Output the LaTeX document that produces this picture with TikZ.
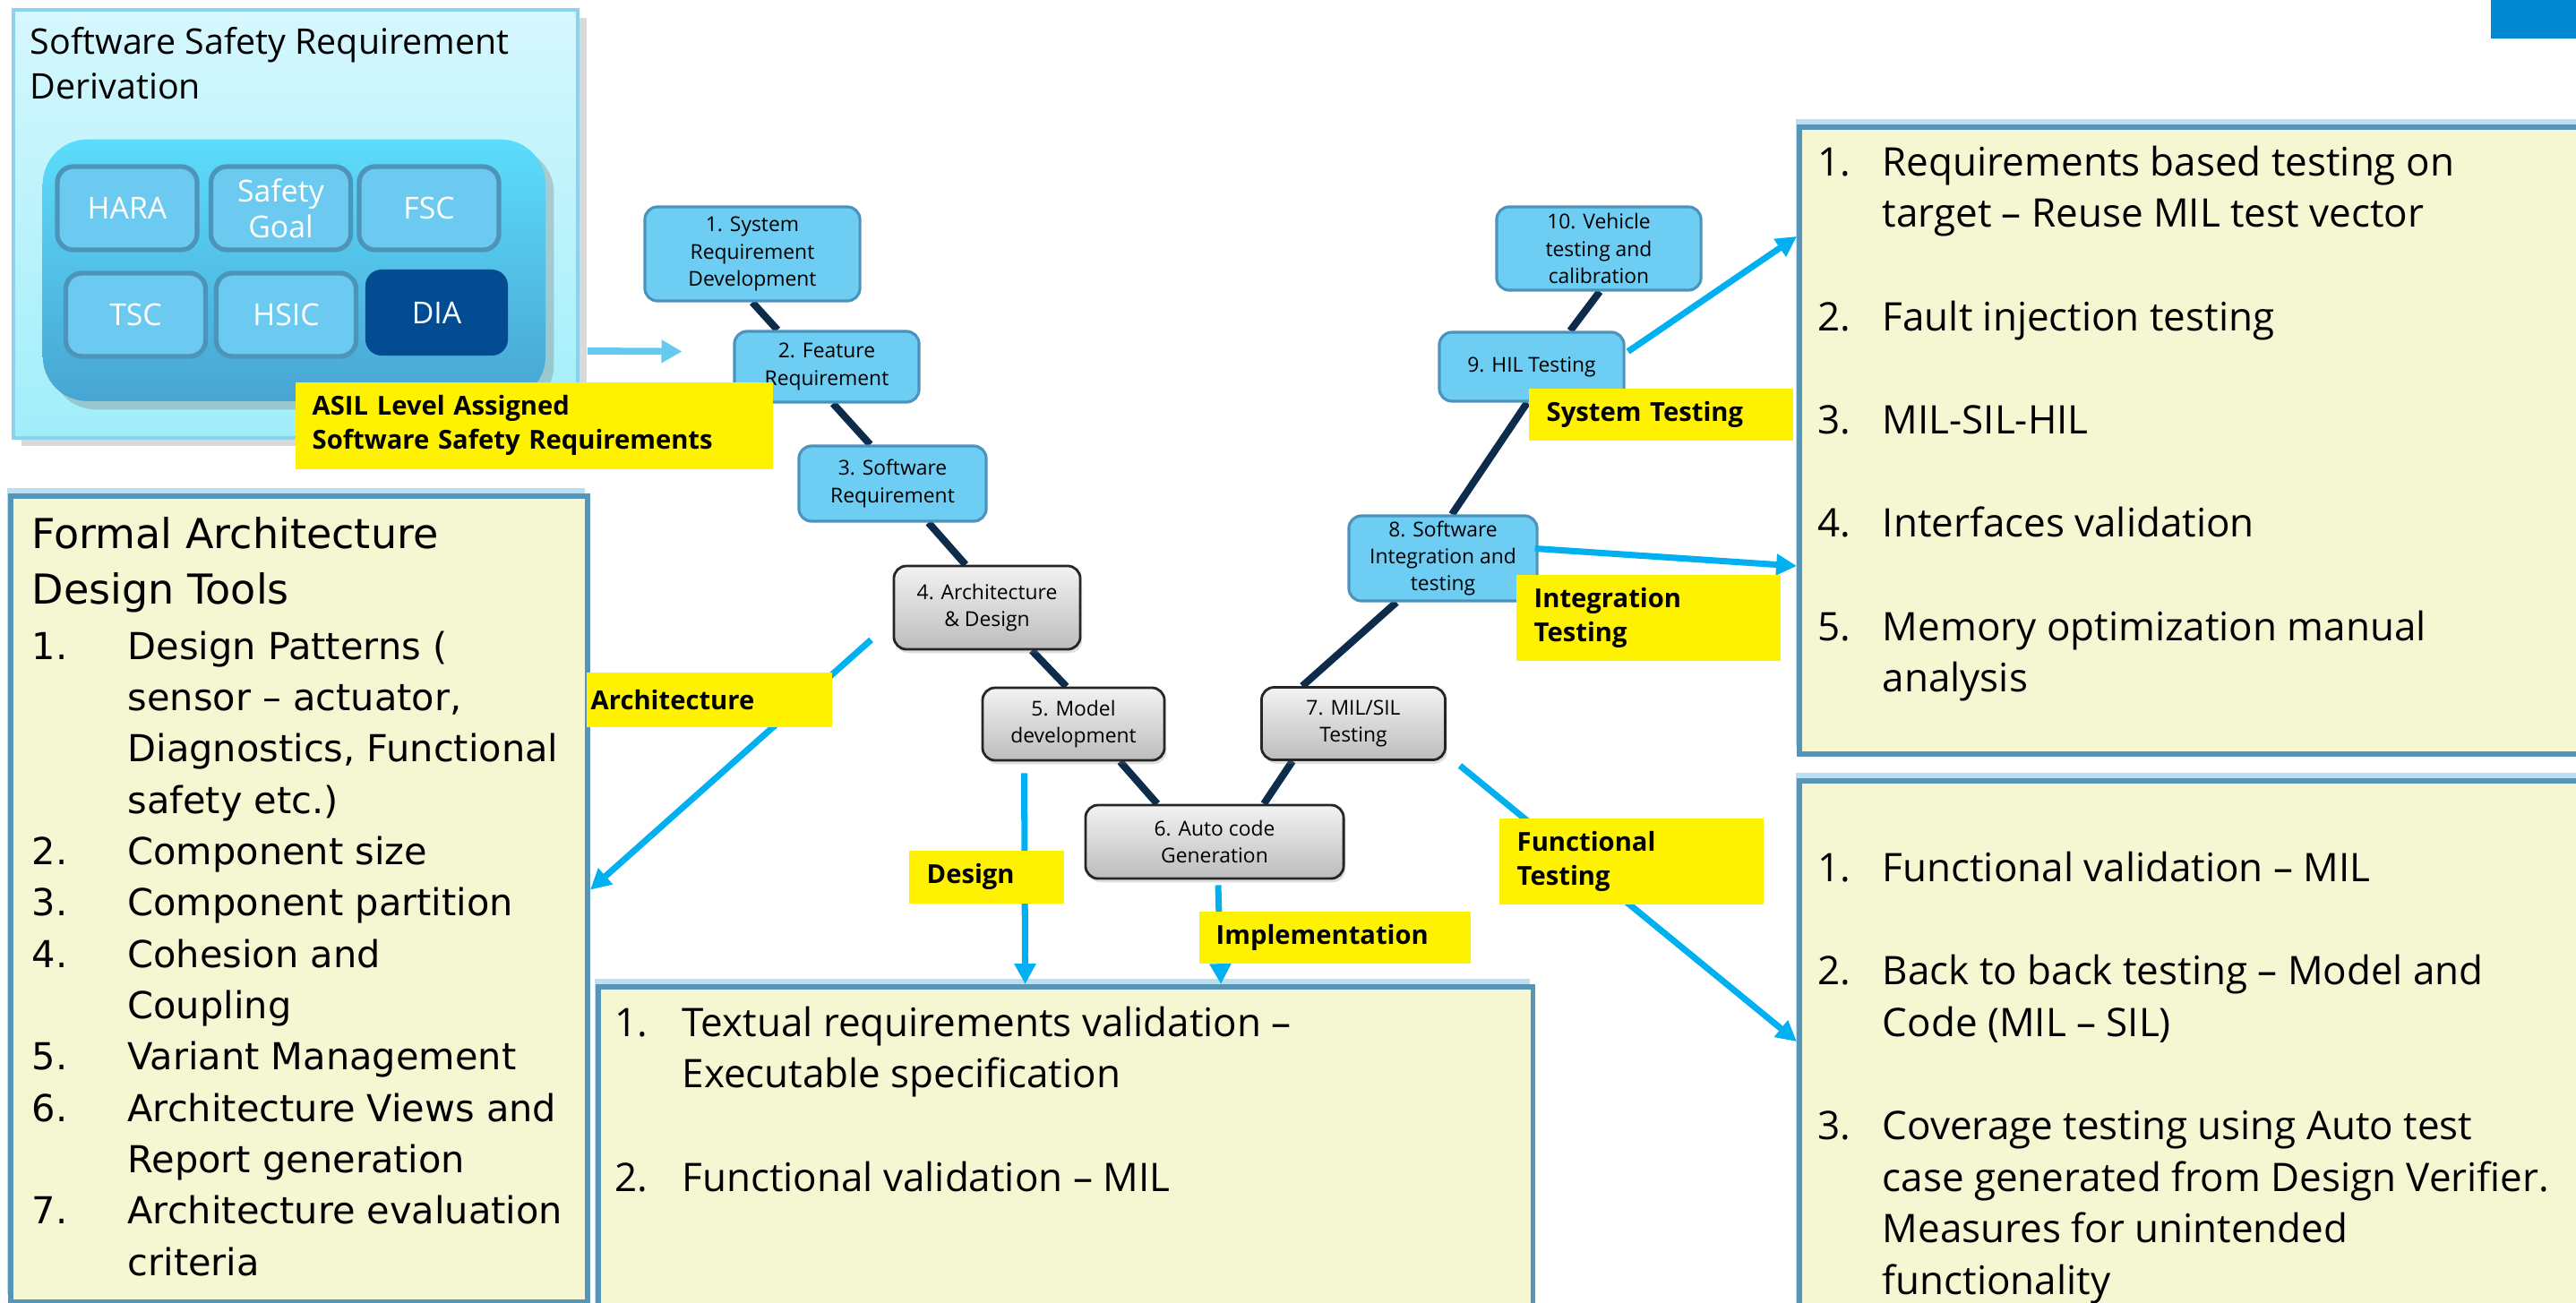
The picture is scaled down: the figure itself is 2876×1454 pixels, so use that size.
\documentclass[tikz,border=0pt]{standalone}
\usepackage{fontspec}
\setmainfont{Open Sans}
\newfontfamily\verdfont{DejaVu Sans}
\usepackage{tikz}
\usetikzlibrary{calc,positioning,arrows.meta,shadows}

\definecolor{vblue}{HTML}{6DCDF2}
\definecolor{vborder}{HTML}{4B93BC}
\definecolor{vnavy}{HTML}{0D2B4B}
\definecolor{arrowblue}{HTML}{00B0F0}
\definecolor{feedblue}{HTML}{66C9EF}
\definecolor{notefill}{HTML}{F5F7D3}
\definecolor{noteborder}{HTML}{5595B8}
\definecolor{noteshade}{HTML}{B8E0F2}
\definecolor{diablue}{HTML}{034C92}
\definecolor{subfill}{HTML}{6CCAF0}
\definecolor{subborder}{HTML}{4D94BB}
\definecolor{cornerblue}{HTML}{0088D1}
\definecolor{ssrdtop}{HTML}{D6F7FD}
\definecolor{ssrdbot}{HTML}{A0EEFA}
\definecolor{ssrdline}{HTML}{8AD2EE}
\definecolor{innertop}{HTML}{5CDCFB}
\definecolor{innerbot}{HTML}{48A5D3}

\newcommand{\numitem}[2]{\makebox[#1][l]{#2}}

\tikzstyle{testarrow} = [line width=2pt, draw=arrowblue, -{Triangle[length=6.5pt,width=6.5pt]}]
\tikzstyle{feedarrow} = [line width=2.2pt, draw=feedblue, -{Triangle[length=6.5pt,width=7pt]}]
\tikzstyle{vline} = [line width=2.3pt, draw=vnavy]
\pgfdeclarelayer{background}
\pgfsetlayers{background,main}

\begin{document}
\begin{tikzpicture}[x=0.01cm, y=-0.01cm]
\tikzset{%
	vstep/.style = { rectangle, rounded corners=4pt, draw=vborder, line width=0.9pt, fill=vblue, align=center, inner sep=0pt, font=\fontsize{6.5}{8.6}\selectfont },
	vgray/.style = { rectangle, rounded corners=4pt, draw=black!85, line width=0.8pt, top color=gray!10, bottom color=gray!52, align=center, inner sep=0pt, font=\fontsize{6.5}{8.6}\selectfont, drop shadow={opacity=0.25, shadow xshift=0.6pt, shadow yshift=-1.2pt} },
	subbox/.style = { rectangle, rounded corners=0.18cm, fill=subfill, draw=subborder, line width=1.5pt, minimum width=1.56cm, minimum height=0.93cm, text=white, align=center, font=\fontsize{9.6}{11.4}\selectfont },
	tag/.style = { rectangle, fill=yellow, anchor=north west, align=left, inner ysep=0pt, font=\bfseries\fontsize{8.3}{10.8}\selectfont },
	note/.style = { rectangle, fill=notefill, draw=noteborder, line width=1.6pt, anchor=north west, drop shadow={shadow xshift=-1pt, shadow yshift=2.5pt, fill=noteshade, opacity=1} },
	notetext/.style = { anchor=north west, align=left, inner sep=0pt, font=\fontsize{12.5}{16.4}\selectfont }
}
\useasboundingbox (0,0) rectangle (2876,1454);
\fill[cornerblue] (2781,0) rectangle (2876,43);

% safety requirement derivation
\node(SSRD)			[rectangle, anchor=north west, minimum width=6.30cm, minimum height=4.78cm, draw=ssrdline, line width=1pt, top color=ssrdtop, bottom color=ssrdbot, drop shadow={opacity=0.3}] at (13,9)
								{};
\node(SSRDTitle)	[anchor=north west, align=left, inner sep=0pt, font=\fontsize{11.2}{14.2}\selectfont] at (33,30)
								{Software Safety Requirement\\Derivation};
\node(SSRDInner)	[rectangle, anchor=north west, rounded corners=0.5cm, minimum width=5.61cm, minimum height=2.92cm, top color=innertop, bottom color=innerbot, drop shadow={opacity=0.35}] at (47,155)
								{};
\node(Hara)			[subbox] at (142,232.5)		{HARA};
\node(SafeGoal)		[subbox] at (313.5,232.5)	{Safety\\Goal};
\node(Fsc)			[subbox] at (479,232.5)		{FSC};
\node(Tsc)			[subbox] at (151.5,351.5)	{TSC};
\node(Hsic)			[subbox] at (319.5,351.5)	{HSIC};
\node(Dia)			[subbox, fill=diablue, draw=none, minimum width=1.59cm, minimum height=0.96cm] at (487.5,349)
								{DIA};

% note boxes
\node(FormalBox)	[note, minimum width=6.44cm, minimum height=8.99cm] at (9,551)		{};
\node(ValBox)		[note, minimum width=10.43cm, minimum height=3.8cm] at (665,1099)	{};
\node(TestBox)		[note, minimum width=8.9cm, minimum height=7.0cm] at (2006,139)	{};
\node(FuncBox)		[note, minimum width=8.9cm, minimum height=6.05cm] at (2006,869)	{};

\node(FormalTitle)	[anchor=north west, align=left, inner sep=0pt, font=\verdfont\fontsize{13.1}{17.6}\selectfont] at (35,577)
								{Formal Architecture\\Design Tools};
\node(FormalList)	[anchor=north west, align=left, inner sep=0pt, font=\verdfont\fontsize{11.8}{16.3}\selectfont] at (35,704)
								{\numitem{30.4pt}{1.}Design Patterns (\\
								 \hspace*{30.4pt}sensor – actuator,\\
								 \hspace*{30.4pt}Diagnostics, Functional\\
								 \hspace*{30.4pt}safety etc.)\\
								 \numitem{30.4pt}{2.}Component size\\
								 \numitem{30.4pt}{3.}Component partition\\
								 \numitem{30.4pt}{4.}Cohesion and\\
								 \hspace*{30.4pt}Coupling\\
								 \numitem{30.4pt}{5.}Variant Management\\
								 \numitem{30.4pt}{6.}Architecture Views and\\
								 \hspace*{30.4pt}Report generation\\
								 \numitem{30.4pt}{7.}Architecture evaluation\\
								 \hspace*{30.4pt}criteria};
\node(ValList)		[notetext] at (686,1123)
								{\numitem{21.3pt}{1.}Textual requirements validation –\\
								 \hspace*{21.3pt}Executable specification\\[16.4pt]
								 \numitem{21.3pt}{2.}Functional validation – MIL};
\node(TestList)		[notetext] at (2029,162)
								{\numitem{20.5pt}{1.}Requirements based testing on\\
								 \hspace*{20.5pt}target – Reuse MIL test vector\\[16.4pt]
								 \numitem{20.5pt}{2.}Fault injection testing\\[16.4pt]
								 \numitem{20.5pt}{3.}MIL-SIL-HIL\\[16.4pt]
								 \numitem{20.5pt}{4.}Interfaces validation\\[16.4pt]
								 \numitem{20.5pt}{5.}Memory optimization manual\\
								 \hspace*{20.5pt}analysis};
\node(FuncList)		[notetext] at (2029,950)
								{\numitem{20.5pt}{1.}Functional validation – MIL\\[16.4pt]
								 \numitem{20.5pt}{2.}Back to back testing – Model and\\
								 \hspace*{20.5pt}Code (MIL – SIL)\\[16.4pt]
								 \numitem{20.5pt}{3.}Coverage testing using Auto test\\
								 \hspace*{20.5pt}case generated from Design Verifier.\\
								 \hspace*{20.5pt}Measures for unintended\\
								 \hspace*{20.5pt}functionality};

% V model steps
\node(SysReq)		[vstep, minimum width=2.40cm, minimum height=1.05cm] at (840,283.5)
								{1. System\\Requirement\\Development};
\node(FeatReq)		[vstep, minimum width=2.06cm, minimum height=0.79cm] at (923,409.5)
								{2. Feature\\Requirement};
\node(SwReq)		[vstep, minimum width=2.09cm, minimum height=0.84cm] at (996.5,540)
								{3. Software\\Requirement};
\node(ArchDes)		[vgray, minimum width=2.08cm, minimum height=0.93cm] at (1102,678.5)
								{4. Architecture\\\& Design};
\node(ModelDev)		[vgray, minimum width=2.03cm, minimum height=0.81cm] at (1198.5,808.5)
								{5. Model\\development};
\node(AutoCode)		[vgray, minimum width=2.88cm, minimum height=0.82cm] at (1356,940)
								{6. Auto code\\Generation};
\node(MilSil)		[vgray, minimum width=2.05cm, minimum height=0.81cm] at (1511,808)
								{7. MIL/SIL\\Testing};
\node(SwInt)		[vstep, minimum width=2.10cm, minimum height=0.95cm] at (1611,623.5)
								{8. Software\\Integration and\\testing};
\node(HilTest)		[vstep, minimum width=2.06cm, minimum height=0.77cm] at (1710,409.5)
								{9. HIL Testing};
\node(VehTest)		[vstep, minimum width=2.28cm, minimum height=0.93cm] at (1785,277.5)
								{10. Vehicle\\testing and\\calibration};

\begin{pgfonlayer}{background}
\draw [vline]	(SysReq.south) -- ([xshift=-0.55cm]FeatReq.north);
\draw [vline]	([xshift=0.07cm]FeatReq.south) -- ([xshift=-0.25cm]SwReq.north);
\draw [vline]	([xshift=0.40cm]SwReq.south) -- ([xshift=-0.24cm]ArchDes.north);
\draw [vline]	([xshift=0.50cm]ArchDes.south) -- ([xshift=-0.08cm]ModelDev.north);
\draw [vline]	([xshift=0.52cm]ModelDev.south) -- ([xshift=-0.64cm]AutoCode.north);
\draw [vline]	([xshift=0.55cm]AutoCode.north) -- ([xshift=-0.68cm]MilSil.south);
\draw [vline]	([xshift=-0.57cm]MilSil.north) -- ([xshift=-0.52cm]SwInt.south);
\draw [vline]	([xshift=0.10cm]SwInt.north) -- ([xshift=-0.05cm]HilTest.south);
\draw [vline]	([xshift=0.43cm]HilTest.north) -- ([xshift=0.01cm]VehTest.south);
\end{pgfonlayer}

% arrows to the notes
\draw [feedarrow]	($(SSRD.east)+(9,142)$) -- ($(FeatReq.west)+(-57,-17)$);
\draw [testarrow]	($(ArchDes.south west)+(-24,-12)$) -- ($(FormalBox.east)+(0,-10)$);
\draw [testarrow]	($(ModelDev.south)+(-55,13)$) -- ($(ValBox.north)+(-45,0)$);
\draw [testarrow]	($(AutoCode.south)+(4,6)$) -- ($(ValBox.north)+(173.5,0)$);
\draw [testarrow]	($(MilSil.south east)+(15,5)$) -- ($(FuncBox.north west)+(0,294)$);
\draw [testarrow]	($(HilTest.east)+(3,-17)$) -- ($(TestBox.north west)+(0,125)$);
\draw [testarrow]	($(SwInt.east)+(-4,-11)$) -- ($(TestBox.north west)+(0,493)$);

% phase labels
\node(AsilTag)		[tag, text width=4.95cm, inner xsep=0.19cm, minimum height=0.97cm] at (329,426)
								{ASIL Level Assigned\\Software Safety Requirements};
\node(ArchTag)		[tag, text width=2.64cm, inner xsep=0.05cm, minimum height=0.61cm] at (654,750)
								{Architecture};
\node(DesignTag)	[tag, text width=1.33cm, inner xsep=0.20cm, minimum height=0.59cm] at (1014,949)
								{Design};
\node(ImplTag)		[tag, text width=2.65cm, inner xsep=0.19cm, minimum height=0.58cm] at (1338,1017)
								{Implementation};
\node(FuncTag)		[tag, text width=2.55cm, inner xsep=0.20cm, minimum height=0.96cm] at (1673,913)
								{Functional\\Testing};
\node(SysTag)		[tag, text width=2.55cm, inner xsep=0.20cm, minimum height=0.58cm] at (1706,433)
								{System Testing};
\node(IntTag)		[tag, text width=2.55cm, inner xsep=0.20cm, minimum height=0.96cm] at (1692,641)
								{Integration\\Testing};
\end{tikzpicture}
\end{document}
